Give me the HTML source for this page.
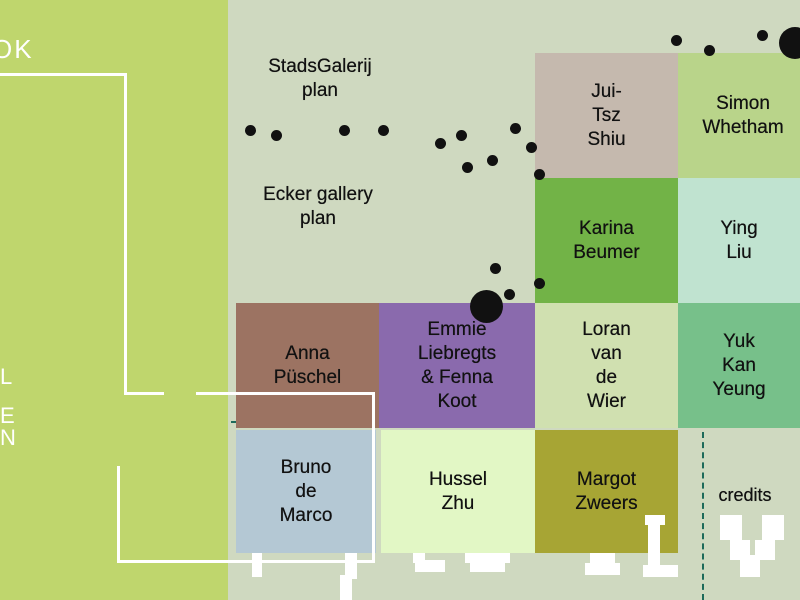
<!DOCTYPE html>
<html><head><style>
body{margin:0;width:800px;height:600px;overflow:hidden;position:relative;background:#cfd9c0;font-family:"Liberation Sans",sans-serif}
div{position:absolute}
.c{display:flex;align-items:center;justify-content:center;text-align:center;font-size:19px;line-height:24px;color:#111;text-shadow:0 0 0.4px #111}
.d{background:#111;border-radius:50%}
.w{background:#fff}
</style></head><body>
<div style="left:0;top:0;width:228px;height:600px;background:#bfd66d"></div>
<div style="left:-8px;top:34px;color:#fff;font-size:26px;font-weight:300;letter-spacing:2px">OK</div>
<div style="left:0px;top:364px;color:#fff;font-size:22px">L</div>
<div style="left:0px;top:405px;color:#fff;font-size:22px;line-height:22px">E<br>N</div>

<div class="c" style="left:250px;top:54px;width:140px;height:50px">StadsGalerij<br>plan</div>
<div class="c" style="left:248px;top:182px;width:140px;height:50px">Ecker gallery<br>plan</div>

<div class="c" style="left:535px;top:53px;width:143px;height:125px;background:#c5b9ae">Jui-<br>Tsz<br>Shiu</div>
<div class="c" style="left:678px;top:53px;width:130px;height:125px;background:#b9d48a">Simon<br>Whetham</div>
<div class="c" style="left:535px;top:178px;width:143px;height:125px;background:#72b347">Karina<br>Beumer</div>
<div class="c" style="left:678px;top:178px;width:122px;height:125px;background:#c0e3d0">Ying<br>Liu</div>
<div class="c" style="left:236px;top:303px;width:143px;height:125px;background:#9c7362">Anna<br>Püschel</div>
<div class="c" style="left:379px;top:303px;width:156px;height:125px;background:#8a6aad">Emmie<br>Liebregts<br>&amp; Fenna<br>Koot</div>
<div class="c" style="left:535px;top:303px;width:143px;height:125px;background:#d0e0b0">Loran<br>van<br>de<br>Wier</div>
<div class="c" style="left:678px;top:303px;width:122px;height:125px;background:#77c08a">Yuk<br>Kan<br>Yeung</div>
<div class="c" style="left:236px;top:430px;width:140px;height:123px;background:#b4c8d4">Bruno<br>de<br>Marco</div>
<div class="c" style="left:381px;top:430px;width:154px;height:123px;background:#e2f7c5">Hussel<br>Zhu</div>
<div class="c" style="left:535px;top:430px;width:143px;height:123px;background:#a7a534">Margot<br>Zweers</div>
<div class="c" style="left:705px;top:480px;width:80px;height:30px;font-size:18px">credits</div>
<div style="left:702px;top:432px;height:168px;border-left:2px dashed #1d6a5a"></div>
<div style="left:231px;top:421px;width:5px;height:2px;background:#1d6a5a"></div>

<div class="w" style="left:0;top:73px;width:126px;height:3px"></div>
<div class="w" style="left:124px;top:73px;width:3px;height:322px"></div>
<div class="w" style="left:124px;top:392px;width:40px;height:3px"></div>
<div class="w" style="left:196px;top:392px;width:178px;height:3px"></div>
<div class="w" style="left:372px;top:392px;width:3px;height:170px"></div>
<div class="w" style="left:117px;top:466px;width:3px;height:97px"></div>
<div class="w" style="left:117px;top:560px;width:258px;height:3px"></div>
<div class="w" style="left:252px;top:553px;width:10px;height:24px"></div>
<div class="w" style="left:345px;top:553px;width:12px;height:26px"></div>
<div class="w" style="left:340px;top:575px;width:12px;height:25px"></div>
<div class="w" style="left:413px;top:553px;width:12px;height:10px"></div>
<div class="w" style="left:415px;top:560px;width:30px;height:12px"></div>
<div class="w" style="left:465px;top:553px;width:45px;height:10px"></div>
<div class="w" style="left:470px;top:560px;width:35px;height:12px"></div>
<div class="w" style="left:590px;top:553px;width:25px;height:10px"></div>
<div class="w" style="left:585px;top:563px;width:35px;height:12px"></div>
<div class="w" style="left:645px;top:515px;width:20px;height:10px"></div>
<div class="w" style="left:648px;top:515px;width:12px;height:60px"></div>
<div class="w" style="left:643px;top:565px;width:35px;height:12px"></div>
<div class="w" style="left:720px;top:515px;width:22px;height:25px"></div>
<div class="w" style="left:730px;top:540px;width:20px;height:20px"></div>
<div class="w" style="left:740px;top:555px;width:20px;height:22px"></div>
<div class="w" style="left:762px;top:515px;width:22px;height:25px"></div>
<div class="w" style="left:755px;top:540px;width:20px;height:20px"></div>

<div class="d" style="left:245px;top:125px;width:11px;height:11px"></div>
<div class="d" style="left:271px;top:130px;width:11px;height:11px"></div>
<div class="d" style="left:339px;top:125px;width:11px;height:11px"></div>
<div class="d" style="left:378px;top:125px;width:11px;height:11px"></div>
<div class="d" style="left:435px;top:138px;width:11px;height:11px"></div>
<div class="d" style="left:456px;top:130px;width:11px;height:11px"></div>
<div class="d" style="left:462px;top:162px;width:11px;height:11px"></div>
<div class="d" style="left:487px;top:155px;width:11px;height:11px"></div>
<div class="d" style="left:510px;top:123px;width:11px;height:11px"></div>
<div class="d" style="left:526px;top:142px;width:11px;height:11px"></div>
<div class="d" style="left:534px;top:169px;width:11px;height:11px"></div>
<div class="d" style="left:490px;top:263px;width:11px;height:11px"></div>
<div class="d" style="left:504px;top:289px;width:11px;height:11px"></div>
<div class="d" style="left:534px;top:278px;width:11px;height:11px"></div>
<div class="d" style="left:470px;top:290px;width:33px;height:33px"></div>
<div class="d" style="left:671px;top:35px;width:11px;height:11px"></div>
<div class="d" style="left:704px;top:45px;width:11px;height:11px"></div>
<div class="d" style="left:757px;top:30px;width:11px;height:11px"></div>
<div class="d" style="left:779px;top:27px;width:32px;height:32px"></div>
</body></html>
